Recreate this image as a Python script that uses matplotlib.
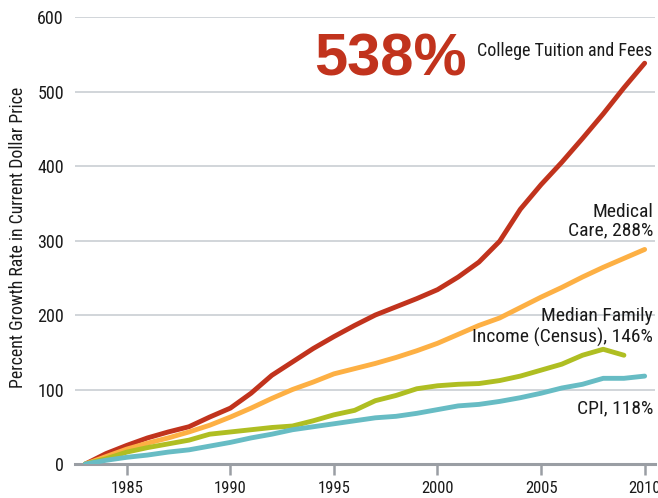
import matplotlib
matplotlib.use("Agg")
import matplotlib.pyplot as plt

years = list(range(1983, 2011))

college = [0, 14, 25, 35, 43, 50, 63, 75, 95, 119, 137, 155, 171, 186, 200, 211, 222, 234,
           251, 271, 299, 342, 375, 405, 437, 470, 505, 538]
medical = [0, 10, 20, 28, 35, 43, 52, 63, 75, 88, 100, 110, 121, 128, 135, 143, 152, 162,
           174, 186, 196, 210, 224, 237, 251, 264, 276, 288]
income_years = list(range(1983, 2010))
income = [0, 7, 16, 22, 27, 32, 40, 43, 46, 49, 51, 58, 66, 72, 85, 92, 101, 105,
          107, 108, 112, 118, 126, 134, 146, 154, 146]
cpi = [0, 5, 9, 12, 16, 19, 24, 29, 35, 40, 46, 50, 54, 58, 62, 64, 68, 73,
       78, 80, 84, 89, 95, 102, 107, 115, 115, 118]

yticks = [0, 100, 200, 300, 400, 500, 600]
xticks = [1985, 1990, 1995, 2000, 2005, 2010]

RED = "#c1331d"
ORANGE = "#fdb044"
GREEN = "#afbe22"
TEAL = "#67bcc4"
GRID = "#ced2d7"
AXIS = "#9a9ea4"
INK = "#1a1a1a"

NARROW = ["Roboto Condensed", "Archivo Narrow", "Barlow Semi Condensed", "DejaVu Sans"]

fig = plt.figure(figsize=(6.58, 4.98), dpi=100)
ax = fig.add_axes([75 / 658, 34 / 498, 580 / 658, 447 / 498])

ax.set_xlim(1982.5, 2010.5)
ax.set_ylim(0, 600)

for v in yticks[1:]:
    ax.axhline(v, color=GRID, lw=1.3, zorder=1)

style = dict(lw=3.5, solid_capstyle="round", solid_joinstyle="round")
ax.plot(years, college, color=RED, zorder=3, **style)
ax.plot(years, medical, color=ORANGE, zorder=4, **style)
ax.plot(income_years, income, color=GREEN, zorder=5, **style)
ax.plot(years, cpi, color=TEAL, zorder=6, **style)

for s in ["top", "right", "left"]:
    ax.spines[s].set_visible(False)
ax.spines["bottom"].set_color(AXIS)
ax.spines["bottom"].set_linewidth(2.2)
ax.spines["bottom"].set_zorder(2)

ax.set_yticks(yticks)
ax.set_yticklabels([str(v) for v in yticks], family=NARROW, fontsize=13, color=INK)
ax.tick_params(axis="y", length=0, pad=8)
ax.set_xticks(xticks)
ax.set_xticklabels([str(v) for v in xticks], family=NARROW, fontsize=12, color=INK)
ax.tick_params(axis="x", direction="out", length=8, width=1.8, color=AXIS, pad=4.5)

fig.text(18 / 658, 1 - 237 / 498, "Percent Growth Rate in Current Dollar Price",
         rotation=90, ha="center", va="center", family=NARROW, fontsize=12.8, color=INK)

# Headline figure and series labels
fig.text(467 / 658, 1 - 75 / 498, "538%", ha="right", va="baseline",
         family=["Liberation Sans", "DejaVu Sans"], fontweight="bold", fontsize=43, color=RED)
fig.text(652 / 658, 1 - 56 / 498, "College Tuition and Fees", ha="right", va="baseline",
         family=NARROW, fontsize=13, color=INK)
label_kw = dict(ha="right", va="baseline", family=NARROW, fontsize=14, color=INK)
fig.text(653 / 658, 1 - 217 / 498, "Medical", **label_kw)
fig.text(653 / 658, 1 - 235 / 498, "Care, 288%", **label_kw)
fig.text(653 / 658, 1 - 321 / 498, "Median Family", **label_kw)
fig.text(653 / 658, 1 - 343 / 498, "Income (Census), 146%", **label_kw)
fig.text(653 / 658, 1 - 413 / 498, "CPI, 118%", **label_kw)

fig.savefig("out.png", dpi=100, facecolor="white")
